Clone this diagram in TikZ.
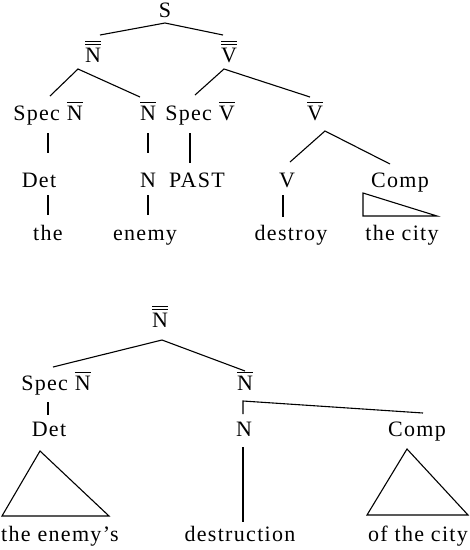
\documentclass[tikz,border=0pt]{standalone}
\usepackage{fontspec}
\setmainfont{Liberation Serif}[LetterSpace=6]
\usepackage{tikz}
\usetikzlibrary{calc}

% bars over categories
\newcommand{\ob}[1]{\leavevmode\vbox{\hrule height 1.2pt \kern 2.2pt \hbox{#1}}}
\newcommand{\oob}[1]{\leavevmode\vbox{\hrule height 1.2pt \kern 1.8pt \hrule height 1.2pt \kern 2.2pt \hbox{#1}}}

\begin{document}
\begin{tikzpicture}[
        x=1pt, y=-1pt,
        every node/.style={font=\fontsize{22}{26}\selectfont},
        cat/.style={anchor=base, inner sep=0pt},
        branch/.style={line width=1.1pt}
    ]
    \useasboundingbox (0,0) rectangle (470,550);
%
    % Sentence tree
    \node[cat] (S) at (165,17) {S};
    \node[cat] (nnT) at (93,62) {\oob{N}};
    \node[cat] (vvT) at (229,62) {\oob{V}};
    \node[cat] (specN1) at (48,120) {Spec \ob{N}};
    \node[cat] (nb1) at (148,120) {\ob{N}};
    \node[cat] (specV) at (200,120) {Spec \ob{V}};
    \node[cat] (vb) at (315,120) {\ob{V}};
    \node[cat] (det1) at (39,187) {Det};
    \node[cat] (n1) at (148,187) {N};
    \node[cat] (past) at (197,187) {PAST};
    \node[cat] (v1) at (287,187) {V};
    \node[cat] (comp1) at (400,187) {Comp};
    \node[cat] (the1) at (48,240) {the};
    \node[cat] (enemy) at (145,240) {enemy};
    \node[cat] (destroy) at (291,240) {destroy};
    \node[cat] (city1) at (402,240) {the city};
%
    \draw[branch] ($(nnT.base)+(7,-27)$) -- ($(S.base)+(0,6)$) -- ($(vvT.base)+(-6,-27)$);
    \draw[branch] ($(specN1.base)+(2,-24)$) -- ($(nnT.base)+(-15,7)$) -- ($(nb1.base)+(-8,-23)$);
    \draw[branch] ($(specV.base)+(-5,-25)$) -- ($(vvT.base)+(-5,7)$) -- ($(vb.base)+(-5,-23)$);
    \draw[branch] ($(v1.base)+(3,-25)$) -- ($(vb.base)+(10,11)$) -- ($(comp1.base)+(-10,-23)$);
    \draw[branch] ($(specN1.base)+(0,13)$) -- ($(det1.base -| specN1.base)+(0,-34)$);
    \draw[branch] ($(nb1.base)+(0,13)$) -- ($(n1.base -| nb1.base)+(0,-34)$);
    \draw[branch] ($(specV.base)+(-10,13)$) -- ($(past.base -| specV.base)+(-10,-24)$);
    \draw[branch] ($(det1.base -| the1.base)+(0,8)$) -- ($(the1.base)+(0,-25)$);
    \draw[branch] ($(n1.base)+(0,8)$) -- ($(enemy.base -| n1.base)+(0,-25)$);
    \draw[branch] ($(v1.base)+(-4,8)$) -- ($(destroy.base -| v1.base)+(-4,-23)$);
    \draw[branch] ($(comp1.base)+(-37,6)$) -- ($(city1.base)+(35,-24)$) -- ($(city1.base)+(-39,-24)$) -- cycle;
%
    % Noun phrase tree
    \node[cat] (nn2) at (160,327) {\oob{N}};
    \node[cat] (specN2) at (56,390) {Spec \ob{N}};
    \node[cat] (nb2) at (245,390) {\ob{N}};
    \node[cat] (det2) at (49,436) {Det};
    \node[cat] (n2) at (244,436) {N};
    \node[cat] (comp2) at (417,436) {Comp};
    \node[cat, anchor=base west] (enemys) at (1,541) {the enemy’s};
    \node[cat] (destr) at (240,541) {destruction};
    \node[cat] (ofcity) at (418,541) {of the city};
%
    \draw[branch] ($(specN2.base)+(-3,-23)$) -- ($(nn2.base)+(2,13)$) -- ($(nb2.base)+(0,-19)$);
    \draw[branch] ($(n2.base)+(-1,-22)$) -- ($(nb2.base)+(-2,11)$) -- ($(comp2.base)+(6,-23)$);
    \draw[branch] ($(specN2.base)+(-8,12)$) -- ($(det2.base)+(-1,-21)$);
    \draw[branch] ($(n2.base)+(-1,11)$) -- ($(destr.base)+(3,-19)$);
    \draw[branch] ($(det2.base)+(-9,15)$) -- ($(enemys.base west)+(108,-25)$) -- ($(enemys.base west)+(1,-25)$) -- cycle;
    \draw[branch] ($(comp2.base)+(-10,13)$) -- ($(ofcity.base)+(50,-26)$) -- ($(ofcity.base)+(-51,-26)$) -- cycle;
%
\end{tikzpicture}
\end{document}
